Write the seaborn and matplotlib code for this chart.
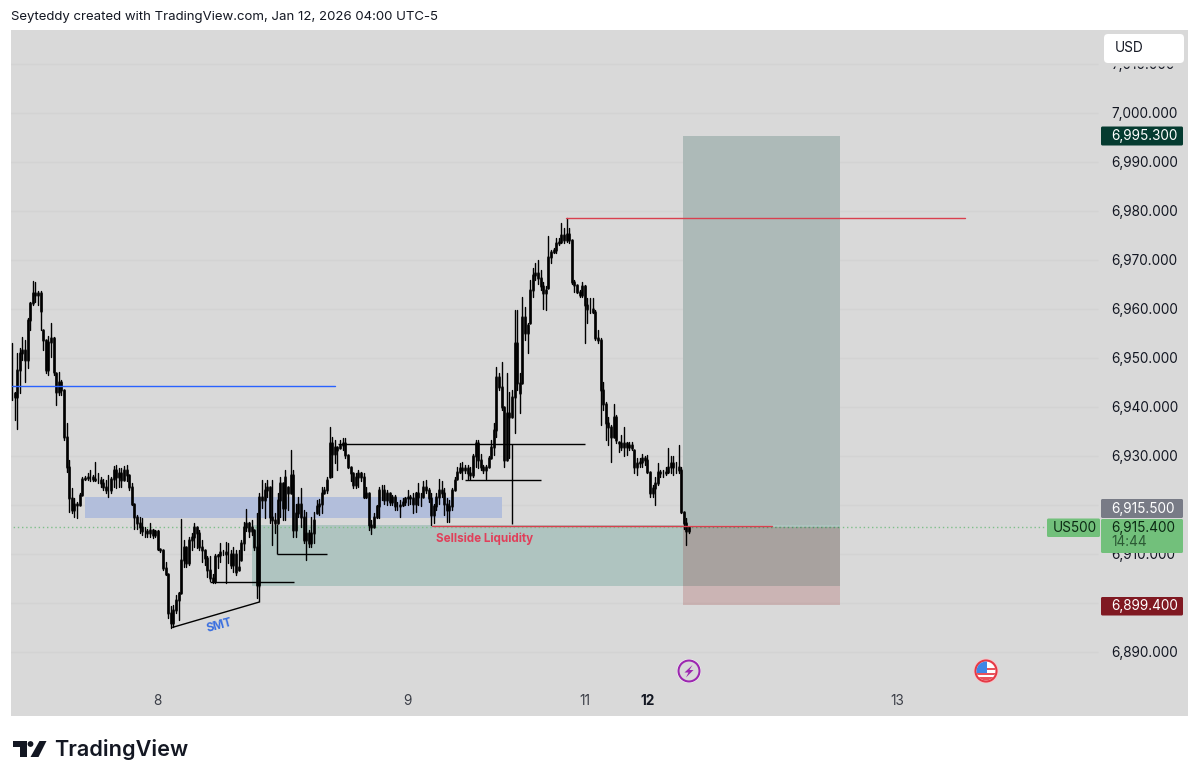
# chart recreated from a TradingView snapshot
import numpy as np
import pandas as pd
import matplotlib
matplotlib.use('Agg')
import matplotlib.pyplot as plt
import matplotlib.patches as mpatches
import matplotlib.transforms as mtrans
import seaborn as sns

# candles, 15 minute bars
bar_high = [
    6952.9,6943.0,6950.9,6951.9,6954.1,6953.6,6958.0,6961.4,6965.7,6965.5,
    6963.6,6963.6,6955.6,6953.6,6954.4,6957.1,6954.1,6946.8,6947.1,6945.4,
    6943.4,6936.6,6929.1,6923.3,6921.3,6920.6,6922.3,6925.7,6925.8,6926.4,
    6927.0,6926.0,6928.7,6926.4,6925.7,6925.3,6925.0,6926.0,6925.7,6927.9,
    6928.1,6927.4,6927.4,6927.9,6928.1,6926.0,6924.3,6920.2,6917.9,6917.5,
    6917.2,6915.5,6915.1,6916.2,6915.1,6914.8,6914.8,6911.0,6910.7,6908.3,
    6905.9,6899.2,6899.5,6901.5,6902.2,6917.0,6912.8,6911.4,6913.4,6914.1,
    6916.2,6915.5,6914.8,6912.8,6910.7,6909.4,6909.4,6905.9,6910.0,6910.0,
    6912.1,6910.7,6912.4,6912.1,6910.7,6911.4,6910.7,6910.7,6912.8,6916.5,
    6919.0,6916.5,6916.8,6914.8,6918.2,6922.3,6925.0,6924.3,6925.0,6923.6,
    6925.0,6918.2,6922.3,6925.7,6924.3,6927.0,6923.6,6931.1,6927.0,6920.2,
    6921.6,6923.3,6918.9,6918.5,6914.8,6917.5,6918.5,6920.9,6921.2,6923.6,
    6923.6,6925.7,6935.9,6933.8,6933.2,6931.8,6933.2,6933.5,6933.5,6930.1,
    6927.7,6926.4,6926.4,6927.0,6926.7,6926.4,6923.6,6922.3,6916.8,6918.2,
    6919.9,6923.6,6924.0,6924.0,6923.0,6922.3,6921.9,6921.9,6920.6,6920.9,
    6921.3,6921.6,6923.0,6921.9,6922.3,6922.6,6924.3,6922.3,6924.7,6925.0,
    6923.3,6922.3,6920.2,6922.3,6925.3,6924.7,6923.3,6921.3,6920.9,6923.3,
    6925.7,6927.7,6928.4,6928.7,6928.1,6928.1,6927.7,6930.4,6933.2,6933.2,
    6930.4,6928.1,6928.1,6929.8,6933.2,6936.6,6948.1,6946.8,6949.1,6940.0,
    6946.8,6943.0,6943.4,6959.7,6959.7,6946.8,6962.4,6960.4,6957.0,6965.8,
    6968.2,6969.2,6969.9,6967.9,6965.5,6964.5,6974.7,6971.9,6972.3,6974.3,
    6974.3,6977.4,6976.4,6978.4,6976.4,6974.0,6965.8,6964.8,6963.8,6965.5,
    6964.8,6962.1,6962.1,6962.1,6959.7,6955.6,6953.9,6945.1,6941.0,6937.9,
    6936.2,6940.6,6938.3,6932.8,6934.2,6935.9,6932.8,6932.8,6932.8,6931.1,
    6929.4,6929.4,6930.4,6929.8,6930.1,6926.7,6924.0,6925.7,6928.4,6927.0,
    6927.0,6927.7,6931.5,6929.8,6929.8,6928.7,6932.1,6927.7,6918.5,6917.2,6915.1,
]
bar_low = [
    6941.3,6937.2,6935.5,6942.7,6949.5,6945.1,6947.8,6955.6,6960.7,6961.4,
    6960.7,6955.6,6951.5,6946.8,6946.4,6950.2,6946.4,6940.3,6942.3,6942.3,
    6933.2,6926.7,6918.5,6918.2,6917.5,6917.2,6919.9,6921.9,6925.0,6925.0,
    6924.7,6924.7,6924.7,6924.3,6923.6,6923.0,6922.3,6921.6,6922.3,6923.6,
    6923.3,6923.6,6923.6,6925.0,6924.7,6923.0,6919.9,6915.1,6915.1,6914.1,
    6913.8,6913.4,6913.4,6913.4,6913.1,6913.4,6910.7,6910.4,6906.6,6905.6,
    6896.8,6894.7,6895.1,6897.8,6896.4,6901.9,6907.3,6907.3,6907.7,6910.7,
    6911.4,6911.1,6910.7,6908.3,6907.7,6905.3,6904.3,6903.9,6904.0,6907.0,
    6908.3,6909.7,6903.9,6908.0,6907.0,6906.3,6905.6,6906.6,6908.7,6910.7,
    6914.5,6913.4,6913.8,6910.7,6901.0,6903.2,6919.2,6917.2,6921.6,6916.2,
    6911.7,6914.1,6916.2,6917.5,6916.8,6916.8,6918.9,6922.3,6913.4,6913.4,
    6917.5,6915.5,6912.1,6908.7,6911.4,6911.4,6912.1,6918.2,6917.9,6918.2,
    6922.3,6922.3,6925.7,6925.7,6928.4,6927.0,6931.5,6931.1,6929.4,6927.4,
    6924.7,6923.3,6923.3,6923.6,6924.7,6921.3,6921.3,6914.8,6914.0,6915.5,
    6917.2,6917.2,6920.9,6920.2,6919.9,6919.9,6919.9,6918.9,6918.9,6917.5,
    6919.6,6919.9,6919.9,6920.2,6918.2,6918.5,6919.9,6919.6,6921.6,6922.3,
    6920.6,6915.8,6916.2,6918.9,6920.2,6921.6,6917.9,6916.5,6916.5,6918.9,
    6923.0,6925.3,6926.4,6925.3,6926.4,6925.3,6925.3,6925.7,6927.7,6927.4,
    6927.0,6926.4,6925.3,6927.7,6929.4,6930.1,6933.8,6943.4,6939.3,6927.7,
    6929.1,6929.4,6937.9,6934.5,6943.4,6938.6,6944.7,6953.6,6950.9,6957.0,
    6962.4,6965.8,6965.1,6963.8,6960.0,6959.7,6964.1,6969.2,6971.3,6971.3,
    6973.0,6973.3,6973.3,6973.6,6973.3,6965.1,6963.4,6963.1,6962.4,6962.4,
    6952.9,6957.0,6959.0,6959.0,6953.6,6952.9,6936.2,6939.3,6933.2,6932.1,
    6928.7,6933.8,6932.5,6930.8,6931.1,6929.8,6930.1,6931.1,6931.1,6926.4,
    6926.0,6927.7,6927.7,6928.1,6926.4,6921.6,6921.6,6919.9,6924.0,6925.7,
    6925.7,6926.0,6926.4,6926.4,6926.0,6926.4,6926.4,6918.2,6915.1,6911.7,6914.1,
]
bar_close = [
    6942.7,6942.0,6947.5,6950.9,6951.5,6949.5,6957.7,6961.1,6963.1,6962.8,
    6963.1,6959.4,6953.6,6947.5,6953.2,6953.9,6947.1,6943.0,6945.1,6943.4,
    6933.8,6927.7,6921.3,6918.9,6920.2,6919.9,6921.9,6925.3,6925.5,6925.7,
    6925.7,6925.3,6925.0,6925.0,6924.3,6923.6,6923.0,6923.0,6925.3,6927.0,
    6925.7,6926.4,6925.0,6927.0,6926.0,6923.6,6920.2,6917.5,6916.2,6915.5,
    6914.5,6914.5,6914.1,6914.8,6913.8,6914.5,6911.0,6910.7,6907.0,6905.9,
    6897.8,6895.8,6898.5,6900.5,6901.9,6908.7,6911.4,6908.0,6912.8,6913.4,
    6915.5,6914.1,6911.4,6910.7,6909.0,6906.6,6904.9,6904.3,6909.4,6909.7,
    6910.4,6910.4,6910.0,6910.0,6907.7,6910.0,6906.3,6907.3,6912.1,6915.5,
    6916.2,6914.5,6915.5,6911.4,6903.6,6921.6,6920.9,6923.0,6923.6,6917.5,
    6916.8,6916.2,6920.9,6924.3,6919.2,6925.7,6922.3,6926.0,6914.8,6918.2,
    6920.2,6917.5,6912.8,6914.1,6912.1,6914.1,6916.8,6919.6,6920.2,6922.3,
    6923.0,6925.0,6932.5,6930.4,6931.8,6931.1,6932.1,6932.5,6930.1,6927.7,
    6926.4,6924.0,6925.7,6926.4,6925.7,6921.6,6922.3,6915.8,6915.5,6917.5,
    6919.6,6923.0,6923.0,6920.9,6922.3,6920.6,6921.6,6919.6,6919.6,6919.9,
    6920.6,6921.3,6921.6,6921.3,6920.2,6922.3,6921.6,6921.6,6923.6,6923.0,
    6921.3,6917.9,6919.6,6921.6,6923.0,6922.3,6920.2,6918.9,6919.6,6923.0,
    6925.0,6926.7,6927.4,6927.0,6927.4,6926.4,6926.0,6929.8,6932.5,6929.1,
    6927.7,6927.0,6927.7,6929.4,6931.8,6935.2,6946.1,6944.0,6940.0,6929.1,
    6938.6,6937.9,6942.0,6952.9,6944.7,6942.7,6958.3,6954.9,6956.6,6963.8,
    6966.8,6967.2,6966.2,6964.5,6963.1,6963.8,6970.6,6971.6,6971.9,6973.3,
    6973.6,6975.0,6974.0,6975.3,6974.0,6965.5,6964.8,6963.4,6962.8,6964.5,
    6960.7,6960.0,6960.0,6959.3,6953.9,6953.6,6943.4,6940.6,6936.6,6935.9,
    6933.8,6937.9,6933.2,6932.5,6931.8,6932.5,6931.8,6932.1,6931.5,6927.7,
    6928.4,6928.7,6929.4,6929.1,6926.7,6922.3,6923.3,6924.3,6926.7,6926.4,
    6926.4,6926.7,6927.7,6928.4,6927.7,6927.7,6927.0,6918.5,6916.2,6914.5,6915.4,
]

# axis, the 6,920 and 6,900 labels sit under price tags in the original
y_ticks = [6890, 6900, 6910, 6920, 6930, 6940, 6950, 6960, 6970, 6980, 6990, 7000, 7010]
y_hidden = [6900, 6920]
day_bars = [56, 152, 220, 244, 340]
day_labels = ['8', '9', '11', '12', '13']

# drawings, x in bars and y in price
zone_blue = [28.0, 188.2, 6917.2, 6921.5]
zone_green = [92.2, 318.0, 6903.3, 6915.9]
pos_left, pos_right = 257.7, 318.0
pos_target, pos_entry, pos_stop = 6995.3, 6915.5, 6899.4
black_lines = [
    ([61.5, 95], [6894.9, 6900.1]),   # SMT leg
    ([95, 95], [6900.1, 6912]),
    ([76, 108.3], [6904.1, 6904.1]),
    ([101.8, 121], [6909.9, 6909.9]),
    ([101.8, 101.8], [6909.9, 6916]),
    ([125.2, 220], [6932.3, 6932.3]),
    ([174, 203.2], [6925.1, 6925.1]),
    ([192, 192], [6916, 6932.3]),
]
red_lines = [([212.7, 366], [6978.5, 6978.5]), ([161.3, 292], [6915.7, 6915.7])]
blue_line = ([0, 124], [6944.1, 6944.1])
last_price = 6915.4

W, H = 1200, 783
sns.set_theme(style='white')
plt.rcParams['font.family'] = ['Inter', 'DejaVu Sans']

fig = plt.figure(figsize=(W / 100, H / 100), dpi=100, facecolor='white')
ax = fig.add_axes([11 / W, (H - 716) / H, 1177 / W, 686 / H], facecolor='#d9d9d9')
# pixel coords for the window chrome, y going down
px = mtrans.Affine2D().scale(1, -1).translate(0, H)

bars = pd.DataFrame({'bar': np.arange(len(bar_high)), 'high': bar_high, 'low': bar_low, 'close': bar_close})
bars['open'] = bars['close'].shift(1).fillna(bars['close'])
bars['open'] = bars['open'].clip(bars['low'], bars['high'])
wicks = bars.melt(id_vars='bar', value_vars=['high', 'low'], value_name='price')
bodies = bars.melt(id_vars='bar', value_vars=['open', 'close'], value_name='price')

ax.hlines(y_ticks, -1, 417, color='#d3d3d3', lw=1, zorder=1)

# zones and position tool
ax.add_patch(mpatches.Rectangle((pos_left, pos_entry), pos_right - pos_left, pos_target - pos_entry, color='#adbab8', lw=0, zorder=2))
ax.add_patch(mpatches.Rectangle((zone_green[0], zone_green[2]), zone_green[1] - zone_green[0], zone_green[3] - zone_green[2], color='#afc4c0', lw=0, zorder=2))
ax.add_patch(mpatches.Rectangle((pos_left, pos_stop), pos_right - pos_left, pos_entry - pos_stop, color='#870000', alpha=0.17, lw=0, zorder=3))
ax.add_patch(mpatches.Rectangle((zone_blue[0], zone_blue[2]), zone_blue[1] - zone_blue[0], zone_blue[3] - zone_blue[2], color='#b2bedb', lw=0, zorder=3))

ax.plot([-1, 399], [last_price, last_price], color='#7fbf8a', lw=1, ls=(0, (1, 2)), zorder=3)
ax.plot([pos_left, pos_right], [last_price, last_price], color='#5f8a72', lw=1, ls=(0, (1, 2)), zorder=3)

sns.lineplot(data=wicks, x='bar', y='price', units='bar', estimator=None, color='black', lw=1.0, sort=False, ax=ax, zorder=4)
sns.lineplot(data=bodies, x='bar', y='price', units='bar', estimator=None, color='black', lw=1.9, sort=False, ax=ax, zorder=4)

for xs, ys in black_lines:
    ax.plot(xs, ys, color='black', lw=1.0, zorder=5, solid_capstyle='butt')
for xs, ys in red_lines:
    ax.plot(xs, ys, color='#d9404f', lw=1.0, zorder=5)
ax.plot(blue_line[0], blue_line[1], color='#2962ff', lw=1.0, zorder=5)

ax.text(181.3, 6913.0, 'Sellside Liquidity', color='#e0405a', fontsize=8.4, fontweight='bold', ha='center', va='center', zorder=6)
ax.text(79.5, 6895.2, 'SMT', color='#3a6fe0', fontsize=8.4, fontweight='bold', ha='center', va='center', rotation=15, zorder=6)

ax.set_xlim((11 - 12) / 2.604, (1188 - 12) / 2.604)
ax.set_ylim(7000 - (716 - 112.5) / 4.9, 7000 + (112.5 - 30) / 4.9)
ax.set_xlabel('')
ax.set_ylabel('')
ax.set_axisbelow(True)
ax.yaxis.tick_right()
ax.set_yticks(y_ticks)
ax.set_yticklabels(['' if v in y_hidden else f'{v:,.3f}' for v in y_ticks])
ax.tick_params(axis='y', length=0, pad=-55.5, labelsize=9.8, labelcolor='#131722')
ax.set_xticks(day_bars)
ax.set_xticklabels(day_labels)
ax.tick_params(axis='x', length=0, pad=-16, labelsize=9.8, labelcolor='#3a3d46')
ax.get_xticklabels()[3].set_fontweight('bold')
ax.get_xticklabels()[3].set_color('#131722')
for s in ax.spines.values():
    s.set_visible(False)


def box(x0, y0, x1, y1, color, rad=1.5, z=2):
    p = mpatches.FancyBboxPatch((x0 + rad, y0 + rad), x1 - x0 - 2 * rad, y1 - y0 - 2 * rad,
                                boxstyle=f'round,pad={rad},rounding_size={rad}', fc=color, ec='none',
                                transform=px, zorder=z)
    fig.add_artist(p)


def label(x, y, s, color, size=9.8, ha='left', weight='normal'):
    fig.text(x, y, s, transform=px, color=color, fontsize=size, ha=ha, va='center', fontweight=weight, zorder=4)


# price scale tags
box(1104, 60, 1184, 66.5, '#d9d9d9', rad=0.5)
box(1104, 34, 1184, 63, 'white', rad=4)
label(1115, 48.5, 'USD', '#131722')
box(1101, 126.5, 1183, 145.5, '#053b30')
label(1111, 135.8, '6,995.300', 'white')
box(1101, 499, 1183, 518, '#787b86')
label(1111, 508.5, '6,915.500', 'white')
box(1047, 518.5, 1100, 537, '#72c07b')
label(1053, 527.8, 'US500', '#0c2a14')
box(1101, 519, 1183, 553, '#72c07b')
label(1111, 527.8, '6,915.400', '#0c2a14')
label(1111, 542.5, '14:44', '#2c5a35')
box(1101, 597, 1183, 615.5, '#801922')
label(1111, 605.8, '6,899.400', 'white')

# header and footer
label(11, 17, 'Seyteddy created with TradingView.com, Jan 12, 2026 04:00 UTC-5', '#131722', size=9.5)
label(54.5, 750, 'TradingView', '#131722', size=15.6, weight='semibold')
fig.add_artist(mpatches.Polygon([(13, 741), (26.7, 741), (26.7, 757), (20, 757), (20, 747), (13, 747)], fc='#131722', ec='none', transform=px))
fig.add_artist(mpatches.Circle((30.5, 744), 2.9, fc='#131722', ec='none', transform=px))
fig.add_artist(mpatches.Polygon([(39.5, 741), (46.5, 741), (38.5, 757), (30.5, 757)], fc='#131722', ec='none', transform=px))

# event markers on the time scale
fig.add_artist(mpatches.Circle((689, 671), 12, fc='white', ec='none', transform=px))
fig.add_artist(mpatches.Circle((689, 671), 10.5, fc='#d9d9d9', ec='#9c27b0', lw=1.5, transform=px))
fig.add_artist(mpatches.Polygon([(692.5, 665), (684.5, 672.5), (688.5, 672.5), (686, 677.5), (693.5, 670), (689.5, 670)], fc='#9c27b0', ec='none', transform=px))
fig.add_artist(mpatches.Circle((986, 671), 12.5, fc='#f6c6cb', ec='none', transform=px))
face = mpatches.Circle((986, 671), 10.5, fc='white', ec='#e53945', lw=1.5, transform=px, zorder=3)
fig.add_artist(face)
for x0, y0, w, h, c in [(975, 667.5, 22, 2.5, '#e8525c'), (975, 672.5, 22, 2.5, '#e8525c'), (975, 677, 22, 4.5, '#e8525c'), (976, 661, 10.5, 11.5, '#3f86e6')]:
    r = mpatches.Rectangle((x0, y0), w, h, fc=c, ec='none', transform=px, zorder=3)
    fig.add_artist(r)
    r.set_clip_path(mpatches.Circle((986, 671), 9.5, transform=px))

fig.savefig('out.png', dpi=100)
